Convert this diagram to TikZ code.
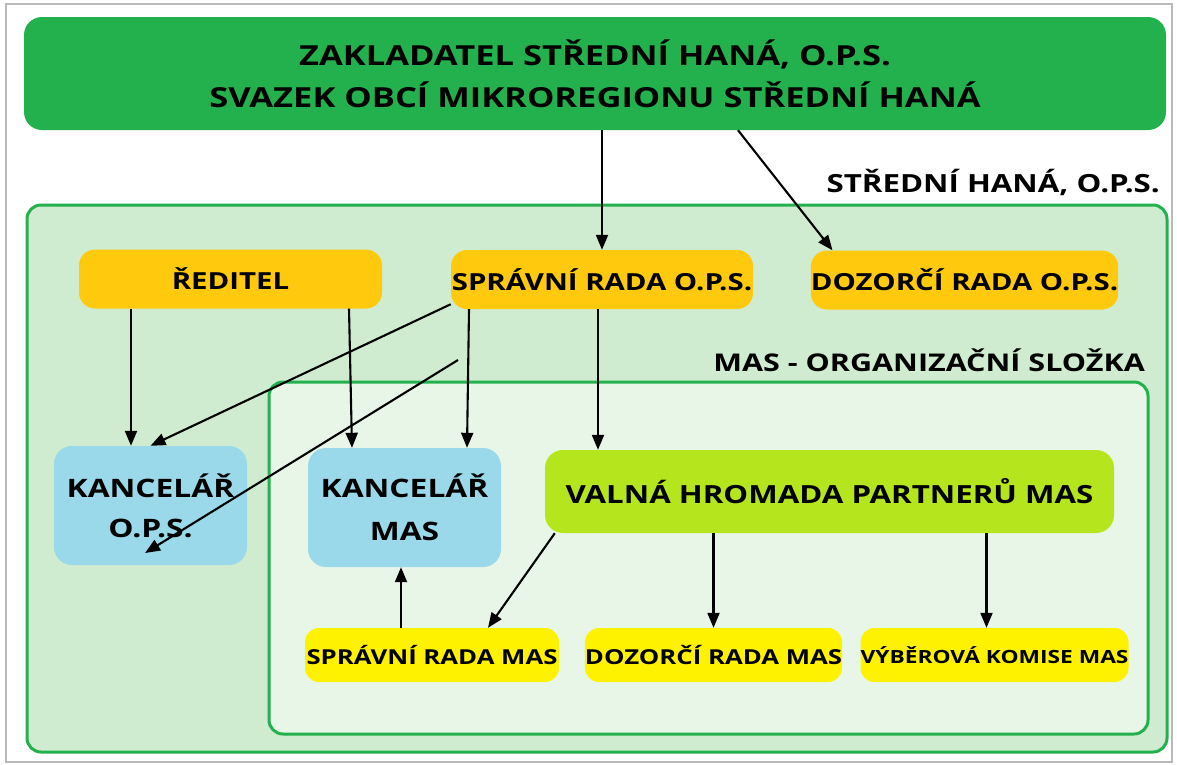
\documentclass[tikz,border=0pt]{standalone}
\usepackage{fontspec}
\setmainfont{Open Sans}[FakeStretch=1.25]
\usepackage{tikz}
\usetikzlibrary{arrows.meta}
\usepackage{xcolor}

\definecolor{hanagreen}{RGB}{34,177,76}
\definecolor{opsfill}{RGB}{207,236,208}
\definecolor{masfill}{RGB}{232,246,232}
\definecolor{boardorange}{RGB}{255,201,14}
\definecolor{officeblue}{RGB}{153,217,234}
\definecolor{assemblylime}{RGB}{181,230,29}
\definecolor{masyellow}{RGB}{255,242,0}

\begin{document}
\begin{tikzpicture}[x=1pt, y=-1pt,
		arr/.style={-{Triangle[length=15pt, width=12pt]}, line width={2.1pt}, black},
		frame/.style={draw=hanagreen, line width={3pt}, rounded corners=14pt},
		board/.style={fill=boardorange, rounded corners=16pt, inner sep=0pt, minimum height=59pt,
			font=\fontsize{23.5}{28}\selectfont\bfseries},
		office/.style={fill=officeblue, rounded corners=18pt, inner sep=0pt, align=center,
			minimum width=193pt, minimum height=119pt, font=\fontsize{25.4}{40}\selectfont\bfseries},
		masbox/.style={fill=masyellow, rounded corners=14pt, inner sep=0pt, minimum width=253pt,
			minimum height=54pt, font=\fontsize{20.6}{24}\selectfont\bfseries},
		title/.style={font=\fontsize{25}{28}\selectfont\bfseries, inner sep=0pt}]
				\useasboundingbox (0,0) rectangle (1177,764);
				\draw[gray!55, line width={1.5pt}] (6,4) rectangle (1172,762);
				
				% frames of the two organisations
				\draw[frame, fill=opsfill] (27,205) rectangle (1167,752);
				\draw[frame, fill=masfill] (269,382) rectangle (1148,734);
				\node[title, anchor=east] (opslabel) at (1160,182) {STŘEDNÍ HANÁ, O.P.S.};
				\node[title, anchor=east, font=\fontsize{24.4}{28}\selectfont\bfseries] (maslabel)
					at (1145,360) {MAS - ORGANIZAČNÍ SLOŽKA};
				
				% founder
				\node[fill=hanagreen, rounded corners=18pt, minimum width=1142pt, minimum height=113pt,
					inner sep=0pt, align=center, font=\fontsize{27.6}{42}\selectfont\bfseries] (founder)
					at (595,73.5) {ZAKLADATEL STŘEDNÍ HANÁ, O.P.S.\\SVAZEK OBCÍ MIKROREGIONU STŘEDNÍ HANÁ};
				
				% o.p.s. bodies
				\node[board, minimum width=303pt] (director) at (230.5,279) {ŘEDITEL};
				\node[board, minimum width=302pt] (opsboard) at (602,279.5) {SPRÁVNÍ RADA O.P.S.};
				\node[board, minimum width=305pt] (opssuper) at (964.5,280) {DOZORČÍ RADA O.P.S.};
				\node[office] (opsoffice) at (150.5,505.5) {KANCELÁŘ\\O.P.S.};
				\node[office, font=\fontsize{25.4}{43}\selectfont\bfseries] (masoffice)
					at (404.5,507.5) {KANCELÁŘ\\MAS};
				
				% mas bodies
				\node[fill=assemblylime, rounded corners=18pt, minimum width=569pt, minimum height=83pt,
					inner sep=0pt, font=\fontsize{25}{28}\selectfont\bfseries] (assembly)
					at (829.5,491.5) {VALNÁ HROMADA PARTNERŮ MAS};
				\node[masbox, minimum width=254pt] (masboard) at (432,655) {SPRÁVNÍ RADA MAS};
				\node[masbox] (massuper) at (713.5,655) {DOZORČÍ RADA MAS};
				\node[masbox, font=\fontsize{18.2}{24}\selectfont\bfseries] (selection)
					at (994.5,655) {VÝBĚROVÁ KOMISE MAS};
				\coordinate (loose) at (458,360);
				
				% connectors
				\draw[arr] (founder.south -| opsboard.north) -- (opsboard.north);
				\draw[arr] ([xshift=143pt]founder.south) -- ([xshift=-132pt]opssuper.north);
				\draw[arr] ([xshift=-99.5pt]director.south) -- ([xshift=-99.5pt]director.south |- opsoffice.north);
				\draw[arr] ([xshift=118.5pt]director.south) -- ([xshift=-52.5pt]masoffice.north);
				\draw[arr] ([yshift=5pt]opsboard.south west) -- (opsoffice.north);
				\draw[arr] ([xshift=-133pt]opsboard.south) -- ([xshift=62.5pt]masoffice.north);
				\draw[arr] ([xshift=-4pt]opsboard.south) -- ([xshift=-4pt]opsboard.south |- assembly.north);
				\draw[arr] (loose) -- ([xshift=-5.5pt, yshift=-47.5pt]opsoffice.center);
				\draw[arr] ([xshift=10pt]assembly.south west) -- ([xshift=56pt]masboard.north);
				\draw[arr] (assembly.south -| massuper.north) -- (massuper.north);
				\draw[arr] ([xshift=-8pt]selection.north |- assembly.south) -- ([xshift=-8pt]selection.north);
				\draw[arr] ([xshift=-31pt]masboard.north) -- ([xshift=-31pt]masboard.north |- masoffice.south);
\end{tikzpicture}
\end{document}
